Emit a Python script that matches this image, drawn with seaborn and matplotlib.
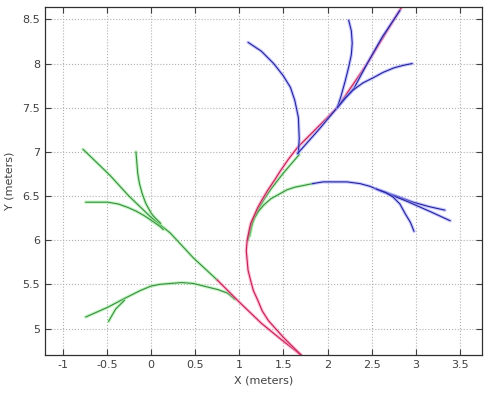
import numpy as np
import pandas as pd
import matplotlib
matplotlib.use("Agg")
import matplotlib.pyplot as plt
import seaborn as sns

# ---- data ----
x_ticks = [-1, -0.5, 0, 0.5, 1, 1.5, 2, 2.5, 3, 3.5]
y_ticks = [5, 5.5, 6, 6.5, 7, 7.5, 8, 8.5]

# red: main arc from start, then straight to top
red_arc_x = [1.70, 1.60, 1.50, 1.41, 1.33, 1.26, 1.21, 1.16, 1.13, 1.10, 1.09, 1.08,
             1.09, 1.11, 1.13, 1.17, 1.21, 1.26, 1.32, 1.40, 1.47, 1.56, 1.66,
             2.11, 2.45, 2.84]
red_arc_y = [4.70, 4.80, 4.90, 5.00, 5.09, 5.20, 5.32, 5.43, 5.54, 5.66, 5.77, 5.88,
             6.00, 6.10, 6.19, 6.28, 6.37, 6.46, 6.56, 6.68, 6.79, 6.92, 7.05,
             7.50, 8.00, 8.64]

# red: second branch from start going up-left
red_left_x = [1.70, 1.47, 1.25, 1.00, 0.75]
red_left_y = [4.70, 4.88, 5.06, 5.30, 5.55]

# green branches (left side)
green_diag_x = [0.75, 0.48, 0.22, 0.00, -0.25, -0.46, -0.77]
green_diag_y = [5.55, 5.80, 6.08, 6.26, 6.50, 6.73, 7.03]

green_up_x = [0.11, 0.03, 0.00, -0.06, -0.10, -0.13, -0.15, -0.17]
green_up_y = [6.19, 6.27, 6.31, 6.42, 6.53, 6.64, 6.76, 7.00]

green_flat_x = [0.14, 0.11, 0.01, -0.08, -0.17, -0.26, -0.37, -0.49, -0.74]
green_flat_y = [6.12, 6.15, 6.22, 6.28, 6.33, 6.37, 6.41, 6.43, 6.43]

green_low_x = [0.95, 0.87, 0.76, 0.64, 0.48, 0.35, 0.22, 0.10, 0.00, -0.12, -0.30, -0.49, -0.74]
green_low_y = [5.33, 5.40, 5.44, 5.47, 5.51, 5.52, 5.51, 5.50, 5.48, 5.43, 5.34, 5.24, 5.13]

green_stub_x = [-0.30, -0.40, -0.48]
green_stub_y = [5.32, 5.22, 5.08]

# green branches on the arc
green_inner_x = [1.12, 1.15, 1.20, 1.28, 1.36, 1.50, 1.68]
green_inner_y = [6.05, 6.20, 6.32, 6.46, 6.58, 6.76, 6.97]

green_right_x = [1.10, 1.13, 1.17, 1.22, 1.28, 1.36, 1.45, 1.54, 1.63, 1.83]
green_right_y = [6.00, 6.14, 6.25, 6.33, 6.40, 6.47, 6.52, 6.57, 6.60, 6.64]

# blue branches
blue_right_x = [1.83, 1.95, 2.07, 2.22, 2.37, 2.48, 2.60, 2.78, 2.97, 3.15, 3.33]
blue_right_y = [6.64, 6.66, 6.66, 6.66, 6.64, 6.61, 6.56, 6.50, 6.43, 6.38, 6.34]

blue_right2_x = [2.60, 2.75, 2.90, 3.15, 3.39]
blue_right2_y = [6.56, 6.50, 6.44, 6.33, 6.22]

blue_down_x = [2.55, 2.66, 2.74, 2.82, 2.88, 2.94, 2.98]
blue_down_y = [6.58, 6.54, 6.49, 6.41, 6.30, 6.20, 6.10]

blue_arc_x = [1.67, 1.68, 1.67, 1.63, 1.58, 1.50, 1.39, 1.25, 1.10]
blue_arc_y = [6.98, 7.15, 7.39, 7.58, 7.73, 7.86, 8.00, 8.14, 8.24]

blue_main_x = [1.66, 1.90, 2.11, 2.30, 2.45, 2.62, 2.82]
blue_main_y = [6.98, 7.25, 7.50, 7.72, 8.00, 8.30, 8.60]

blue_up_x = [2.11, 2.15, 2.20, 2.24, 2.27, 2.28, 2.27, 2.24]
blue_up_y = [7.50, 7.62, 7.80, 7.96, 8.10, 8.23, 8.37, 8.49]

blue_side_x = [2.11, 2.20, 2.29, 2.40, 2.52, 2.63, 2.75, 2.86, 2.96]
blue_side_y = [7.50, 7.61, 7.70, 7.78, 7.84, 7.90, 7.95, 7.98, 8.00]

# ---- figure ----
sns.set_theme(style="white")
plt.rcParams["font.family"] = ["DejaVu Sans"]
fig = plt.figure(figsize=(4.86, 3.99), dpi=100)
ax = fig.add_axes([45 / 486, 44 / 399, 437 / 486, 348 / 399])

styles = {
    "red": ("#ff88b8", "#c0204e"),
    "green": ("#8cf08c", "#3f8a45"),
    "blue": ("#9a9aff", "#24249a"),
}


def draw(xs, ys, kind):
    halo, core = styles[kind]
    df = pd.DataFrame({"x": xs, "y": ys})
    sns.lineplot(data=df, x="x", y="y", sort=False, estimator=None,
                 color=halo, lw=2.4, alpha=0.55, ax=ax)
    sns.lineplot(data=df, x="x", y="y", sort=False, estimator=None,
                 color=core, lw=0.8, ax=ax)


draw(green_diag_x, green_diag_y, "green")
draw(green_up_x, green_up_y, "green")
draw(green_flat_x, green_flat_y, "green")
draw(green_low_x, green_low_y, "green")
draw(green_stub_x, green_stub_y, "green")
draw(green_inner_x, green_inner_y, "green")
draw(green_right_x, green_right_y, "green")
draw(red_left_x, red_left_y, "red")
draw(red_arc_x, red_arc_y, "red")
draw(blue_right_x, blue_right_y, "blue")
draw(blue_right2_x, blue_right2_y, "blue")
draw(blue_down_x, blue_down_y, "blue")
draw(blue_arc_x, blue_arc_y, "blue")
draw(blue_main_x, blue_main_y, "blue")
draw(blue_up_x, blue_up_y, "blue")
draw(blue_side_x, blue_side_y, "blue")

ax.set_xlim(-1.2, 3.75)
ax.set_ylim(4.7, 8.64)
ax.set_xticks(x_ticks)
ax.set_yticks(y_ticks)
ax.set_xticklabels([f"{v:g}" for v in x_ticks])
ax.set_yticklabels([f"{v:g}" for v in y_ticks])
ax.grid(True, linestyle=":", color="#b0b0b0", lw=0.8)
ax.tick_params(direction="in", length=4, width=0.8, labelsize=8,
               colors="#404040", top=True, right=True, bottom=True, left=True,
               labeltop=False, labelright=False)
for s in ax.spines.values():
    s.set_color("#303030")
    s.set_linewidth(0.9)
ax.set_xlabel("X (meters)", fontsize=8, color="#404040", labelpad=4)
ax.set_ylabel("Y (meters)", fontsize=8, color="#404040", labelpad=6)

fig.savefig("out.png", dpi=100)
